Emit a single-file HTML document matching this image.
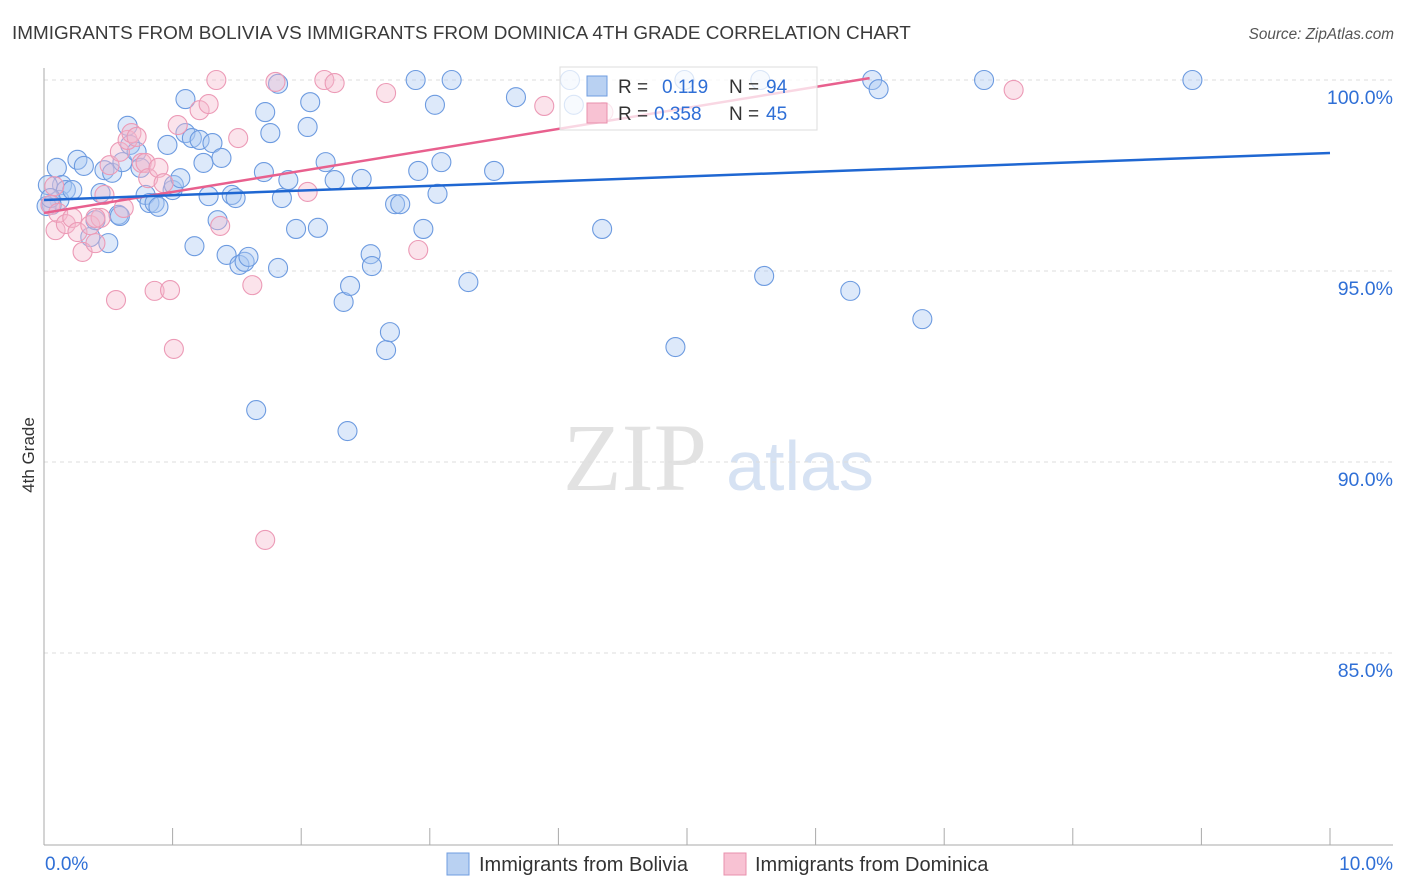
<!DOCTYPE html>
<html><head><meta charset="utf-8"><style>
body{margin:0;background:#fff;font-family:"Liberation Sans",sans-serif;}
#wrap{position:relative;width:1406px;height:892px;overflow:hidden;}
</style></head><body>
<div id="wrap">
<svg id="svg" width="1406" height="892" xmlns="http://www.w3.org/2000/svg" style="position:absolute;left:0;top:0">
<text x="12" y="39" font-size="18.9" fill="#3a3a3a">IMMIGRANTS FROM BOLIVIA VS IMMIGRANTS FROM DOMINICA 4TH GRADE CORRELATION CHART</text>
<text x="1394" y="39" font-size="15.3" fill="#555" font-style="italic" text-anchor="end">Source: ZipAtlas.com</text>
<text x="635" y="490" font-size="96" fill="#e2e2e2" text-anchor="middle" font-family="Liberation Serif,serif">ZIP</text>
<text x="800" y="490" font-size="70" fill="#d6e2f3" text-anchor="middle">atlas</text>
<text transform="translate(34,455) rotate(-90)" font-size="17" fill="#333" text-anchor="middle">4th Grade</text>
<g id="grid"></g><g id="axes"></g><g id="pts"></g><g id="trend"></g>
<g>
<rect x="560" y="67" width="257" height="63" fill="#fff" fill-opacity="0.75" stroke="#ddd"/>
<rect x="587" y="76" width="20" height="20" fill="#b9d1f2" stroke="#6f9de0"/>
<rect x="587" y="103" width="20" height="20" fill="#f8c2d3" stroke="#e990ac"/>
<text x="618" y="93" font-size="19" fill="#333">R = </text><text x="662" y="93" font-size="19" fill="#2f6fd6">0.119</text>
<text x="729" y="93" font-size="19" fill="#333">N = </text><text x="766" y="93" font-size="19" fill="#2f6fd6">94</text>
<text x="618" y="120" font-size="19" fill="#333">R = </text><text x="654" y="120" font-size="19" fill="#2f6fd6">0.358</text>
<text x="729" y="120" font-size="19" fill="#333">N = </text><text x="766" y="120" font-size="19" fill="#2f6fd6">45</text>
</g>
<rect x="447" y="853" width="22" height="22" fill="#b9d1f2" stroke="#6f9de0"/>
<text x="479" y="871" font-size="20" fill="#333">Immigrants from Bolivia</text>
<rect x="724" y="853" width="22" height="22" fill="#f8c2d3" stroke="#e990ac"/>
<text x="755" y="871" font-size="20" fill="#333">Immigrants from Dominica</text>
</svg>
</div>
<script>
const yTicks=[100,95,90,85];
const yTickLabels=["100.0%","95.0%","90.0%","85.0%"];
const xTickLabels=["0.0%","10.0%"];
const blueX=[0.10,0.14,0.12,0.06,0.03,0.17,0.22,0.26,0.31,0.36,0.40,0.44,0.50,0.47,0.53,0.58,0.61,0.65,0.67,0.72,0.75,0.79,0.82,0.86,0.89,0.96,1.00,1.01,1.06,1.10,1.10,1.15,1.17,1.21,1.24,1.28,1.31,1.35,1.38,1.42,1.46,1.49,1.52,1.56,1.59,1.65,1.72,1.71,1.76,1.82,1.82,1.85,1.90,1.96,2.05,2.07,2.13,2.19,2.26,2.33,2.36,2.38,2.47,2.54,2.55,2.66,2.69,2.73,2.77,2.89,2.91,2.95,3.04,3.09,3.06,3.17,3.30,3.50,3.67,4.09,4.12,4.34,4.91,4.98,5.57,5.60,6.27,6.44,6.49,6.83,7.31,8.93,0.02,0.05,0.59];
const blueY=[97.70,97.25,96.86,96.73,97.25,97.12,97.12,97.91,97.75,95.89,96.33,97.04,95.73,97.64,97.57,96.47,97.85,98.80,98.30,98.12,97.70,96.99,96.78,96.78,96.68,98.30,97.12,97.25,97.43,99.50,98.61,98.48,95.65,98.43,97.83,96.96,98.35,96.33,97.96,95.42,96.99,96.91,95.16,95.24,95.37,91.36,99.16,97.59,98.61,95.08,99.90,96.91,97.38,96.10,98.77,99.42,96.13,97.85,97.38,94.19,90.81,94.61,97.41,95.44,95.13,92.93,93.40,96.75,96.75,100.0,97.62,96.10,99.35,97.85,97.02,100.0,94.71,97.62,99.55,100.0,99.35,96.10,93.01,100.0,100.0,94.87,94.48,100.0,99.76,93.74,100.0,100.0,96.70,96.91,96.44];
const pinkX=[0.09,0.05,0.08,0.11,0.17,0.22,0.26,0.30,0.36,0.40,0.44,0.47,0.51,0.56,0.59,0.62,0.65,0.68,0.72,0.76,0.79,0.81,0.86,0.89,0.93,0.98,1.01,1.04,1.21,1.28,1.34,1.37,1.51,1.62,1.72,1.80,2.05,2.18,2.26,2.66,2.91,3.89,4.35,7.54,0.40];
const pinkY=[96.07,96.73,97.22,96.52,96.23,96.39,96.02,95.50,96.20,95.73,96.39,96.99,97.77,94.24,98.12,96.65,98.43,98.61,98.51,97.83,97.83,97.43,94.48,97.70,97.30,94.50,92.96,98.82,99.21,99.37,100.0,96.18,98.48,94.63,87.96,99.95,97.07,100.0,99.92,99.66,95.55,99.32,99.16,99.74,96.39];
const blueTrendX=[0,10], blueTrendY=[96.86,98.09];
const pinkTrendX=[0,6.42], pinkTrendY=[96.52,100.05];

const NS="http://www.w3.org/2000/svg";
const X0=44,X1=1330,Y100=80,PX5=191;
const sx=v=>X0+(v/10)*(X1-X0);
const sy=v=>Y100+(100-v)*PX5/5;
function mk(tag,attrs,parent){const e=document.createElementNS(NS,tag);for(const k in attrs)e.setAttribute(k,attrs[k]);parent.appendChild(e);return e;}
const grid=document.getElementById('grid'),axes=document.getElementById('axes'),pts=document.getElementById('pts'),trend=document.getElementById('trend');
yTicks.forEach((t,i)=>{
 const l=mk('line',{x1:44,x2:1393,y1:sy(t),y2:sy(t),stroke:'#ddd','stroke-dasharray':'4,4'},grid);
 
 
 const tx=mk('text',{x:1393,y:sy(t)+24,'font-size':19.5,fill:'#2f6fd6','text-anchor':'end'},grid);
 tx.textContent=yTickLabels[i];
 
 
});
let a=mk('line',{x1:44,x2:44,y1:68,y2:845,stroke:'#aaa'},axes);


a=mk('line',{x1:44,x2:1393,y1:845,y2:845,stroke:'#aaa'},axes);


for(let i=0;i<=10;i++){
 const t=mk('line',{x1:sx(i),x2:sx(i),y1:828,y2:845,stroke:'#aaa'},axes);
 
 
}
let xl=mk('text',{x:45,y:870,'font-size':19,fill:'#2f6fd6'},axes);xl.textContent=xTickLabels[0];


xl=mk('text',{x:1393,y:870,'font-size':19,fill:'#2f6fd6','text-anchor':'end'},axes);xl.textContent=xTickLabels[1];


blueX.forEach((x,i)=>{
 const c=mk('circle',{cx:sx(x),cy:sy(blueY[i]),r:9.5,fill:'rgba(170,200,242,0.4)',stroke:'#6d9be0','stroke-width':1.1},pts);
 
 
});
pinkX.forEach((x,i)=>{
 const c=mk('circle',{cx:sx(x),cy:sy(pinkY[i]),r:9.5,fill:'rgba(246,185,205,0.4)',stroke:'#ec9ab6','stroke-width':1.1},pts);
 
 
});
let tl=mk('line',{x1:sx(pinkTrendX[0]),y1:sy(pinkTrendY[0]),x2:sx(pinkTrendX[1]),y2:sy(pinkTrendY[1]),stroke:'#e8608e','stroke-width':2.5},trend);


tl=mk('line',{x1:sx(blueTrendX[0]),y1:sy(blueTrendY[0]),x2:sx(blueTrendX[1]),y2:sy(blueTrendY[1]),stroke:'#1f67d2','stroke-width':2.5},trend);


</script>
</body></html>
